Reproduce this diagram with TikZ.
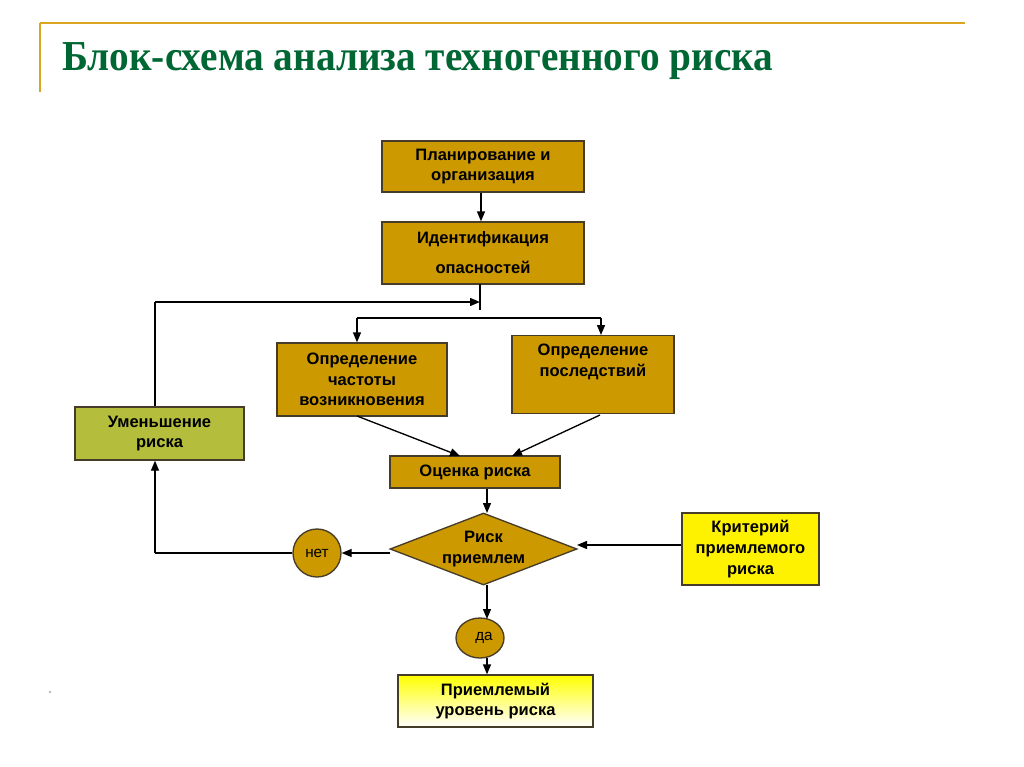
\documentclass[tikz,border=0pt]{standalone}
\usepackage{fontspec}
\setmainfont{Liberation Sans}
\newfontfamily\titlefont{Liberation Serif}
\usetikzlibrary{arrows.meta,shapes.geometric}
\definecolor{gold}{RGB}{204,153,0}
\definecolor{leaf}{RGB}{180,190,60}
\definecolor{ttl}{RGB}{0,102,51}
\definecolor{rule}{RGB}{218,165,32}
\definecolor{edge}{RGB}{70,60,40}
\tikzset{
  blk/.style={draw=edge, line width=1pt, font=\bfseries\fontsize{12.4}{15.6}\selectfont, align=center, inner sep=0pt},
  goldbox/.style={blk, fill=gold},
  arr/.style={-{Triangle[length=7.5pt,width=6pt]}, line width=1pt, black},
  ln/.style={line width=1pt, black}
}
\begin{document}
\begin{tikzpicture}[x=0.75pt,y=-0.75pt]
\useasboundingbox[fill=white] (0,0) rectangle (1024,767);
% frame
\draw[rule, line width=2pt] (40,23) -- (965,23);
\draw[rule, line width=2pt] (40,23) -- (40,92);
\node[anchor=west, text=ttl, font=\titlefont\bfseries\fontsize{32}{36}\selectfont, xscale=0.92, inner sep=0pt] (title) at (62,61) {Блок-схема анализа техногенного риска};
% boxes
\node[goldbox, minimum width=202*0.75pt, minimum height=51*0.75pt] (plan) at (483,166.5) {Планирование и\\организация};
\node[goldbox, minimum width=202*0.75pt, minimum height=62*0.75pt, font=\bfseries\fontsize{12.4}{22.5}\selectfont] (ident) at (483,253) {Идентификация\\опасностей};
\node[goldbox, minimum width=170*0.75pt, minimum height=73*0.75pt] (freq) at (362,379.5) {Определение\\частоты\\возникновения};
\node[goldbox, minimum width=162*0.75pt, minimum height=73*0.75pt, anchor=north, text depth=28pt] (cons) at (593,335) {\rule{0pt}{15pt}Определение\\последствий};
\node[blk, fill=leaf, minimum width=169*0.75pt, minimum height=53*0.75pt] (reduce) at (159.5,433.5) {Уменьшение\\риска};
\node[goldbox, minimum width=170*0.75pt, minimum height=32*0.75pt] (assess) at (475,472) {Оценка риска};
\node[blk, fill=gold, diamond, aspect=2.6, minimum width=187*0.75pt, minimum height=72*0.75pt, inner sep=0pt] (dec) at (483.5,549) {Риск\\приемлем};
\node[blk, fill=yellow, minimum width=137*0.75pt, minimum height=72*0.75pt] (crit) at (750.5,549) {Критерий\\приемлемого\\риска};
\node[circle, draw=edge, line width=1pt, fill=gold, minimum size=48*0.75pt, inner sep=0pt, font=\fontsize{11.5}{13}\selectfont] (no) at (317,553) {нет};
\node[ellipse, draw=edge, line width=1pt, fill=gold, minimum width=48*0.75pt, minimum height=40*0.75pt, inner sep=0pt, font=\fontsize{11.5}{13}\selectfont] (yes) at (480,638) {\raisebox{3pt}{\hspace{6pt}да}};
\node[blk, top color=yellow, bottom color=white, minimum width=195*0.75pt, minimum height=52*0.75pt] (accept) at (495.5,701) {Приемлемый\\уровень риска};
\fill[gray!70] (50,692) circle (1.2);
% coordinates
\coordinate (tickA) at (480,284);
\coordinate (tickB) at (480,310);
\coordinate (fbtop) at (155,302);
\coordinate (brL) at (357,318);
\coordinate (brR) at (601,318);
\coordinate (noL) at (155,553);
% connectors
\draw[arr] (plan.south -| 481,0) -- (ident.north -| 481,0);
\draw[ln] (tickA) -- (tickB);
\draw[ln] (reduce.north -| fbtop) -- (fbtop);
\draw[arr] (fbtop) -- (480,302);
\draw[ln] (brL) -- (brR);
\draw[arr] (brL) -- (freq.north -| brL);
\draw[arr] (brR) -- (cons.north -| brR);
\draw[arr] (357,416) -- (460,456);
\draw[arr] (600,415) -- (512,456);
\draw[arr] (assess.south -| 487,0) -- (487,513);
\draw[arr] (390,553) -- (no.east);
\draw[ln] (no.west) -- (noL);
\draw[arr] (noL) -- (reduce.south -| noL);
\draw[arr] (crit.west |- 0,545) -- (577,545);
\draw[arr] (487,585) -- (487,619);
\draw[arr] (487,658) -- (accept.north -| 487,0);
\end{tikzpicture}
\end{document}
